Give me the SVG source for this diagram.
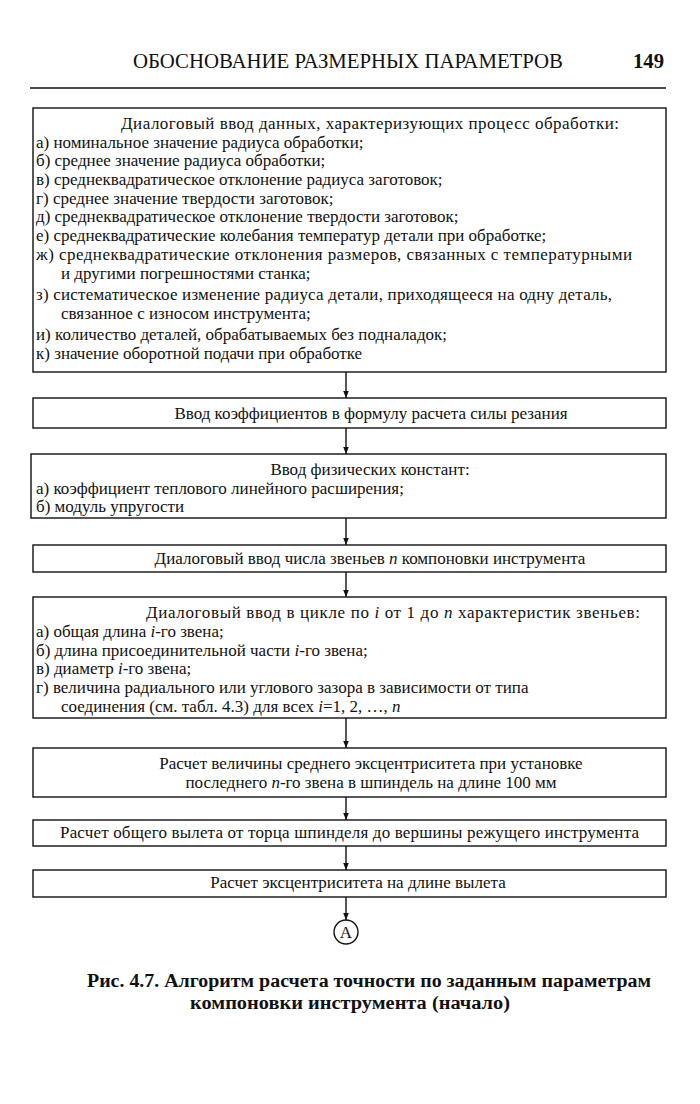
<svg xmlns="http://www.w3.org/2000/svg" width="700" height="1104" viewBox="0 0 700 1104">
<style>
text{font-family:"Liberation Serif","Times New Roman",serif;fill:#111;}
.t{font-size:17px;}
.c{text-anchor:middle;}
.h{font-size:21px;}
.cap{font-size:18px;font-weight:bold;}
.box{fill:none;stroke:#111;stroke-width:1.4;}
.con{stroke:#111;stroke-width:1.4;fill:none;}
.i{font-style:italic;}
</style>
<defs>
<marker id="ah" viewBox="0 0 10 10" refX="10" refY="5" markerWidth="7" markerHeight="9" orient="auto" markerUnits="userSpaceOnUse">
<path d="M0,1 L10,5 L0,9 z" fill="#111"/>
</marker>
</defs>
<rect width="700" height="1104" fill="#fff"/>
<g id="header">
<text class="h" x="133" y="68" textLength="430" lengthAdjust="spacingAndGlyphs">ОБОСНОВАНИЕ РАЗМЕРНЫХ ПАРАМЕТРОВ</text>
<text class="h" x="633" y="68" font-weight="bold" textLength="31" lengthAdjust="spacingAndGlyphs">149</text>
<line x1="30" y1="88" x2="666" y2="88" stroke="#111" stroke-width="1.6"/>
</g>
<g id="connectors">
<line class="con" x1="346" y1="372" x2="346" y2="398" marker-end="url(#ah)"/>
<line class="con" x1="346" y1="428" x2="346" y2="454" marker-end="url(#ah)"/>
<line class="con" x1="346" y1="518" x2="346" y2="545" marker-end="url(#ah)"/>
<line class="con" x1="346" y1="572" x2="346" y2="597" marker-end="url(#ah)"/>
<line class="con" x1="346" y1="718" x2="346" y2="748" marker-end="url(#ah)"/>
<line class="con" x1="346" y1="797" x2="346" y2="820" marker-end="url(#ah)"/>
<line class="con" x1="346" y1="846" x2="346" y2="870" marker-end="url(#ah)"/>
<line class="con" x1="346" y1="897" x2="346" y2="920" marker-end="url(#ah)"/>
</g>
<g id="n1">
<rect class="box" x="33" y="108" width="633" height="264"/>
<text class="t c" x="370" y="129" textLength="498" lengthAdjust="spacing">Диалоговый ввод данных, характеризующих процесс обработки:</text>
<text class="t" x="36" y="148">а) номинальное значение радиуса обработки;</text>
<text class="t" x="36" y="166">б) среднее значение радиуса обработки;</text>
<text class="t" x="36" y="185">в) среднеквадратическое отклонение радиуса заготовок;</text>
<text class="t" x="36" y="204">г) среднее значение твердости заготовок;</text>
<text class="t" x="36" y="222">д) среднеквадратическое отклонение твердости заготовок;</text>
<text class="t" x="36" y="241">е) среднеквадратические колебания температур детали при обработке;</text>
<text class="t" x="36" y="260" textLength="596" lengthAdjust="spacing">ж) среднеквадратические отклонения размеров, связанных с температурными</text>
<text class="t" x="61" y="279">и другими погрешностями станка;</text>
<text class="t" x="36" y="300" textLength="576" lengthAdjust="spacing">з) систематическое изменение радиуса детали, приходящееся на одну деталь,</text>
<text class="t" x="61" y="319">связанное с износом инструмента;</text>
<text class="t" x="36" y="340">и) количество деталей, обрабатываемых без подналадок;</text>
<text class="t" x="36" y="359">к) значение оборотной подачи при обработке</text>
</g>
<g id="n2">
<rect class="box" x="33" y="398" width="633" height="30"/>
<text class="t c" x="371" y="419">Ввод коэффициентов в формулу расчета силы резания</text>
</g>
<g id="n3">
<rect class="box" x="31" y="454" width="635" height="64"/>
<text class="t c" x="370" y="475">Ввод физических констант:</text>
<text class="t" x="36" y="494">а) коэффициент теплового линейного расширения;</text>
<text class="t" x="36" y="512">б) модуль упругости</text>
</g>
<g id="n4">
<rect class="box" x="33" y="545" width="633" height="27"/>
<text class="t c" x="370" y="564">Диалоговый ввод числа звеньев <tspan class="i">n</tspan> компоновки инструмента</text>
</g>
<g id="n5">
<rect class="box" x="33" y="597" width="633" height="121"/>
<text class="t c" x="393" y="618" textLength="494" lengthAdjust="spacing">Диалоговый ввод в цикле по <tspan class="i">i</tspan> от 1 до <tspan class="i">n</tspan> характеристик звеньев:</text>
<text class="t" x="36" y="637">а) общая длина <tspan class="i">i</tspan>-го звена;</text>
<text class="t" x="36" y="656">б) длина присоединительной части <tspan class="i">i</tspan>-го звена;</text>
<text class="t" x="36" y="674">в) диаметр <tspan class="i">i</tspan>-го звена;</text>
<text class="t" x="36" y="693">г) величина радиального или углового зазора в зависимости от типа</text>
<text class="t" x="61" y="712">соединения (см. табл. 4.3) для всех <tspan class="i">i</tspan>=1, 2, …, <tspan class="i">n</tspan></text>
</g>
<g id="n6">
<rect class="box" x="33" y="748" width="633" height="49"/>
<text class="t c" x="371" y="769">Расчет величины среднего эксцентриситета при установке</text>
<text class="t c" x="371" y="788">последнего <tspan class="i">n</tspan>-го звена в шпиндель на длине 100 мм</text>
</g>
<g id="n7">
<rect class="box" x="33" y="820" width="633" height="26"/>
<text class="t c" x="349.5" y="838" textLength="579" lengthAdjust="spacing">Расчет общего вылета от торца шпинделя до вершины режущего инструмента</text>
</g>
<g id="n8">
<rect class="box" x="33" y="870" width="633" height="27"/>
<text class="t c" x="358" y="888">Расчет эксцентриситета на длине вылета</text>
</g>
<g id="nA">
<circle cx="346" cy="932" r="12" fill="none" stroke="#111" stroke-width="1.4"/>
<text x="346" y="938" font-size="17" text-anchor="middle">A</text>
</g>
<g id="caption">
<text class="cap" x="87" y="987" textLength="564" lengthAdjust="spacingAndGlyphs">Рис. 4.7. Алгоритм расчета точности по заданным параметрам</text>
<text class="cap" x="190" y="1009" textLength="320" lengthAdjust="spacingAndGlyphs">компоновки инструмента (начало)</text>
</g>
</svg>
